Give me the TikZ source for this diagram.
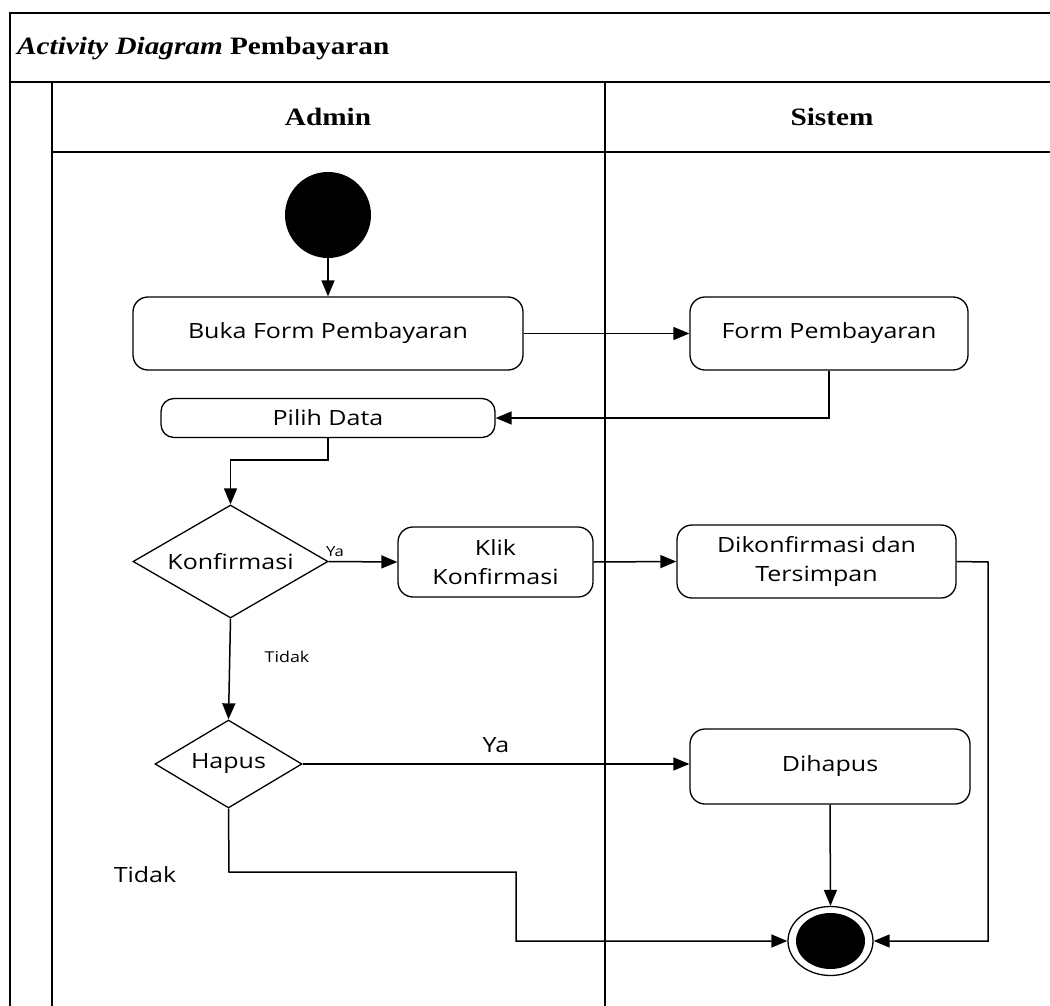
\documentclass[tikz,border=0pt]{standalone}
\usepackage{fontspec}
\setmainfont{Liberation Serif}[FakeStretch=1.17]
\newfontfamily\nodefont{Open Sans}[FakeStretch=1.19]
\usetikzlibrary{arrows.meta,shapes.geometric}
\begin{document}
\begin{tikzpicture}[x=1pt,y=-1pt,
  lane/.style={line width=1.6pt},
  act/.style={draw, line width=1.3pt, rounded corners=15pt, fill=white,
    font=\nodefont\fontsize{21}{29}\selectfont, align=center, inner sep=0pt},
  deci/.style={draw, diamond, line width=1.3pt, fill=white, inner sep=0pt,
    font=\nodefont\fontsize{21}{25}\selectfont},
  flow/.style={line width=1.5pt, -{Triangle[length=16pt,width=13pt]}},
  lbl/.style={font=\nodefont\fontsize{21}{25}\selectfont, inner sep=0pt},
  smalllbl/.style={font=\nodefont\fontsize{15}{18}\selectfont, inner sep=0pt},
  hdr/.style={font=\fontsize{25}{30}\selectfont\bfseries, inner sep=0pt}
]
\useasboundingbox (0,0) rectangle (1050,1006);
% swimlane frame
\draw[lane] (1050,13) -- (10,13) -- (10,1006);
\draw[lane] (10,82) -- (1050,82);
\draw[lane] (52,152) -- (1050,152);
\draw[lane] (52,82) -- (52,1006);
\draw[lane] (605,82) -- (605,1006);
\node[anchor=west, inner sep=0pt, font=\fontsize{25}{30}\selectfont] (title) at (17,49)
  {\textbf{\textit{Activity Diagram}} \textbf{Pembayaran}};
\node[hdr] (hadmin) at (328,117) {Admin};
\node[hdr] (hsistem) at (832,117) {Sistem};

% nodes
\node[circle, fill=black, minimum size=86pt, inner sep=0pt] (start) at (328,215) {};
\node[act, minimum width=390pt, minimum height=73pt] (buka) at (328,333.5) {Buka Form Pembayaran};
\node[act, minimum width=278pt, minimum height=73pt] (form) at (829,333.5) {Form Pembayaran};
\node[act, minimum width=334pt, minimum height=39pt, rounded corners=13pt] (pilih) at (328,418) {Pilih Data};
\node[deci, aspect=1.73, minimum width=195pt, minimum height=113pt] (konf) at (230.5,561.5) {Konfirmasi};
\node[act, minimum width=195pt, minimum height=70pt] (klik) at (495.5,562) {Klik\\Konfirmasi};
\node[act, minimum width=279pt, minimum height=73pt] (dik) at (816.5,561.5) {Dikonfirmasi dan\\Tersimpan};
\node[deci, aspect=1.67, minimum width=147pt, minimum height=88pt] (hapus) at (228.5,764) {Hapus};
\node[act, minimum width=280pt, minimum height=75pt] (dihapus) at (830,766.5) {Dihapus};
\node[ellipse, draw, line width=1.3pt, fill=white, minimum width=85pt, minimum height=69pt, inner sep=0pt] (final) at (830.5,941) {};
\node[ellipse, fill=black, minimum width=69pt, minimum height=56pt, inner sep=0pt] (finalin) at (final.center) {};

\coordinate (p1) at (328,460);
\coordinate (p2) at (988,562);
\coordinate (p3) at (229,872);
\coordinate (p4) at (516,872);

% connectors
\draw[flow] (start) -- (buka);
\draw[flow] (buka) -- (form);
\draw[flow] (form.south) |- (pilih.east);
\draw[flow] (pilih.south) -- (p1) -| (konf.north);
\draw[flow] (konf.east) -- (klik.west);
\draw[flow] (klik.east) -- (dik.west);
\draw[flow] (dik.east) -- (p2) |- (final.east);
\draw[flow] (konf.south) -- (hapus.north);
\draw[flow] (hapus.east) -- (dihapus.west |- hapus.east);
\draw[flow] (dihapus.south) -- (final.north);
\draw[flow] (hapus.south) -- (p3) -- (p4) |- (final.west);

% labels
\node[font=\nodefont\fontsize{14}{16}\selectfont, inner sep=0pt] (ya1) at (335,552) {Ya};
\node[smalllbl] (tidak1) at (287,657) {Tidak};
\node[lbl] (ya2) at (496,745) {Ya};
\node[lbl] (tidak2) at (145,875) {Tidak};
\end{tikzpicture}
\end{document}
